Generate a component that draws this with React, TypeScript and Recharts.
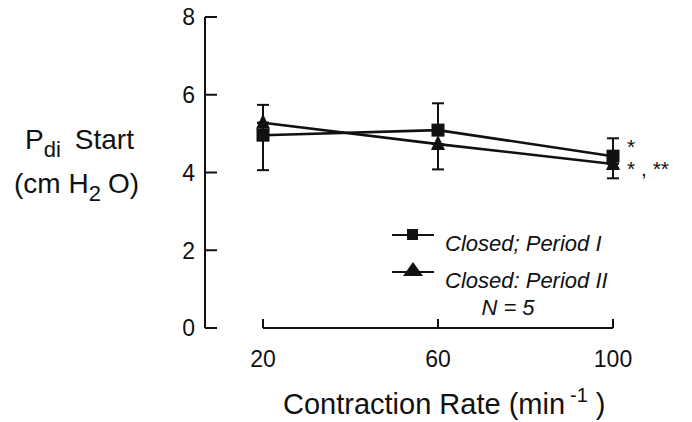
import React from 'react'
import { LineChart, Line, XAxis, YAxis, ErrorBar, ReferenceLine, Legend, LabelList } from 'recharts'

const rates = [20, 60, 100]
const periodI = [4.96, 5.09, 4.42]
const periodII = [5.28, 4.73, 4.22]
// [lower, upper] error for each point
const errI = [[0.9, 0.78], [0, 0.69], [0, 0.46]]
const errII = [[0, 0], [0.65, 0], [0.37, 0]]
const starsI = ['', '', '*']
const starsII = ['', '', '* , **']
const yTicks = [0, 2, 4, 6, 8]
const xTicks = [20, 60, 100]

const FONT = '"Liberation Sans", Arial, Helvetica, sans-serif'
const INK = '#111'

const data = rates.map((rate, i) => ({
    rate,
    periodI: periodI[i],
    periodII: periodII[i],
    errI: errI[i],
    errII: errII[i],
    starsI: starsI[i],
    starsII: starsII[i],
}))

const SquareDot = (props: any) => {
    const { cx, cy } = props
    if (cx == null || cy == null) return null
    return <rect x={cx - 6.5} y={cy - 6.5} width={13} height={13} fill={INK} />
}

const TriangleDot = (props: any) => {
    const { cx, cy } = props
    if (cx == null || cy == null) return null
    return <path d={`M${cx},${cy - 9} L${cx + 7},${cy + 6} L${cx - 7},${cy + 6} Z`} fill={INK} />
}

const YTick = ({ x, y, payload }: any) => (
    <g>
        <line x1={x} y1={y} x2={x + 12} y2={y} stroke={INK} strokeWidth={2} />
        <text x={x - 10} y={y} dy="0.36em" textAnchor="end" fontSize={23} fontFamily={FONT} fill={INK}>
            {payload.value}
        </text>
    </g>
)

const XTick = ({ x, y, payload }: any) => (
    <g>
        <line x1={x} y1={y} x2={x} y2={y - 9} stroke={INK} strokeWidth={2} />
        <text x={x} y={y + 39} textAnchor="middle" fontSize={23} fontFamily={FONT} fill={INK}>
            {payload.value}
        </text>
    </g>
)

const YTitle = () => (
    <g fontFamily={FONT} fill={INK}>
        <text x={25} y={149} fontSize={28}>
            P<tspan fontSize={22} dy={8}>di</tspan>
            <tspan dx={14} dy={-8}>Start</tspan>
        </text>
        <text x={14} y={193} fontSize={28}>
            (cm H<tspan fontSize={22} dy={8}>2</tspan>
            <tspan dx={7} dy={-8}>O)</tspan>
        </text>
    </g>
)

const XTitle = () => (
    <text x={283} y={414} fontSize={29} fontFamily={FONT} fill={INK}>
        Contraction Rate (min
        <tspan dx={5} dy={-12} fontSize={20}>-1</tspan>
        <tspan dx={8} dy={12}>)</tspan>
    </text>
)

const starLabel = (offset: number) => (props: any) => {
    const { x, y, value } = props
    if (!value) return null
    return (
        <text x={x + 14} y={y + offset} fontSize={21} fontFamily={FONT} fill={INK}>
            {value}
        </text>
    )
}

const markerOrder = ['periodI', 'periodII']
const markers: Record<string, 'square' | 'triangle'> = { periodI: 'square', periodII: 'triangle' }

const LegendBox = ({ payload }: any) => {
    const items = [...(payload || [])].sort(
        (a: any, b: any) => markerOrder.indexOf(a.dataKey) - markerOrder.indexOf(b.dataKey)
    )
    return (
        <svg width={260} height={105} style={{ display: 'block' }}>
            {items.map((entry: any, i: number) => {
                const ly = 15 + i * 37
                const kind = markers[entry.dataKey]
                return (
                    <g key={entry.dataKey}>
                        <line x1={12} y1={ly} x2={54} y2={ly} stroke={INK} strokeWidth={2} />
                        {kind === 'square' ? (
                            <rect x={27} y={ly - 6} width={11} height={11} fill={INK} />
                        ) : (
                            <path d={`M33,${ly - 10} L43,${ly + 4} L23,${ly + 4} Z`} fill={INK} />
                        )}
                        <text x={65} y={ly + 16} fontSize={22} fontStyle="italic" fontFamily={FONT} fill={INK}>
                            {entry.value}
                        </text>
                    </g>
                )
            })}
            <text x={128} y={95} textAnchor="middle" fontSize={22} fontStyle="italic" fontFamily={FONT} fill={INK}>
                N = 5
            </text>
        </svg>
    )
}

export default function App() {
    return (
        <div style={{ position: 'absolute', left: 0, top: 0, width: 692, height: 422, background: '#fff' }}>
            <LineChart width={692} height={422} data={data} margin={{ top: 17, right: 79, bottom: 0, left: 0 }}>
                <XAxis
                    dataKey="rate"
                    type="number"
                    domain={[20, 100]}
                    ticks={xTicks}
                    padding={{ left: 58, right: 0 }}
                    axisLine={false}
                    tickLine={false}
                    tickSize={0}
                    tickMargin={0}
                    height={94}
                    tick={<XTick />}
                    label={<XTitle />}
                />
                <YAxis
                    type="number"
                    domain={[0, 8]}
                    ticks={yTicks}
                    width={205}
                    axisLine={{ stroke: INK, strokeWidth: 2 }}
                    tickLine={false}
                    tickSize={0}
                    tickMargin={0}
                    tick={<YTick />}
                    label={<YTitle />}
                />
                <ReferenceLine
                    segment={[{ x: 20, y: 0 }, { x: 100, y: 0 }]}
                    stroke={INK}
                    strokeWidth={2}
                    ifOverflow="visible"
                />
                <Legend
                    layout="vertical"
                    align="center"
                    verticalAlign="middle"
                    content={<LegendBox />}
                    wrapperStyle={{ left: 380, top: 220, width: 260, height: 105 }}
                />
                <Line
                    dataKey="periodI"
                    name="Closed; Period I"
                    stroke={INK}
                    strokeWidth={2.6}
                    dot={<SquareDot />}
                    activeDot={false}
                    isAnimationActive={false}
                >
                    <ErrorBar dataKey="errI" width={6} stroke={INK} strokeWidth={2} direction="y" />
                    <LabelList dataKey="starsI" content={starLabel(-2)} />
                </Line>
                <Line
                    dataKey="periodII"
                    name="Closed: Period II"
                    stroke={INK}
                    strokeWidth={2.6}
                    dot={<TriangleDot />}
                    activeDot={false}
                    isAnimationActive={false}
                >
                    <ErrorBar dataKey="errII" width={6} stroke={INK} strokeWidth={2} direction="y" />
                    <LabelList dataKey="starsII" content={starLabel(12)} />
                </Line>
            </LineChart>
        </div>
    )
}
